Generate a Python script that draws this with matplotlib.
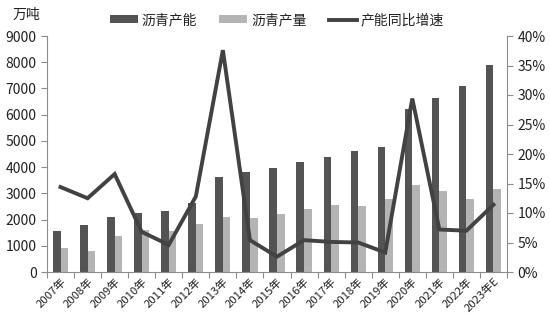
import matplotlib
matplotlib.use("Agg")
import matplotlib.pyplot as plt
import numpy as np
from matplotlib.ticker import FuncFormatter, FixedLocator

plt.rcParams['font.family'] = ['Noto Sans CJK SC', 'DejaVu Sans']

years = ["2007年", "2008年", "2009年", "2010年", "2011年", "2012年", "2013年", "2014年",
         "2015年", "2016年", "2017年", "2018年", "2019年", "2020年", "2021年", "2022年", "2023年E"]
capacity = [1580, 1800, 2090, 2240, 2330, 2645, 3630, 3820, 3970, 4190, 4400, 4630,
            4760, 6210, 6630, 7110, 7910]
production = [905, 815, 1360, 1600, 1565, 1830, 2090, 2050, 2215, 2395, 2555, 2505,
              2775, 3320, 3090, 2775, 3170]
growth = [14.4, 12.5, 16.6, 6.8, 4.6, 12.8, 37.6, 5.4, 2.6, 5.4, 5.1, 5.0, 3.3, 29.4,
          7.2, 7.0, 11.4]

dark = '#545454'
light = '#b4b4b4'
linec = '#424242'
axc = '#8c8c8c'
txtc = '#222222'

fig = plt.figure(figsize=(5.5, 3.16), dpi=100)
ax = fig.add_axes([47/550, 1-272/316, (507-47)/550, (272-36)/316])
ax2 = ax.twinx()

x = np.arange(len(years))
w = 0.28
ax.bar(x - w/2, capacity, w, color=dark, label='沥青产能', zorder=2)
ax.bar(x + w/2, production, w, color=light, label='沥青产量', zorder=2)
ax2.plot(x, growth, color=linec, lw=2.8, label='产能同比增速', solid_joinstyle='miter')

ax.set_xlim(-0.5, len(years) - 0.5)
ax.set_ylim(0, 9000)
ax.set_yticks(np.arange(0, 9001, 1000))
ax2.set_ylim(0, 40)
ax2.set_yticks(np.arange(0, 41, 5))
ax2.yaxis.set_major_formatter(FuncFormatter(lambda v, p: f"{int(v)}%"))

ax.xaxis.set_major_locator(FixedLocator(np.arange(-0.5, len(years), 1.0)))
ax.xaxis.set_major_formatter(FuncFormatter(lambda v, p: ""))
ax.xaxis.set_minor_locator(FixedLocator(x))
ax.set_xticklabels(years, minor=True, rotation=45, ha='right', rotation_mode='anchor',
                   fontsize=8.2, color=txtc)
ax.tick_params(axis='x', which='minor', length=0, pad=3)
ax.tick_params(axis='x', which='major', length=4, color=axc, direction='out')
ax.tick_params(axis='y', length=4, color=axc, labelsize=10)
for lab in ax.get_yticklabels():
    lab.set_color(txtc)
ax2.tick_params(axis='y', length=4, color=axc, labelsize=10)
for lab in ax2.get_yticklabels():
    lab.set_color(txtc)

for a in (ax, ax2):
    a.spines['top'].set_visible(False)
    for s in ('left', 'right', 'bottom'):
        a.spines[s].set_color(axc)
ax.spines['right'].set_visible(False)
ax2.spines['left'].set_visible(False)
ax2.spines['bottom'].set_visible(False)

fig.text(26/550, 1-15/316, '万吨', fontsize=10, color=txtc, ha='center', va='center')

h1, l1 = ax.get_legend_handles_labels()
h2, l2 = ax2.get_legend_handles_labels()
fig.legend(h1 + h2, l1 + l2, loc='center', bbox_to_anchor=(277/550, 1-20/316), ncol=3,
           frameon=False, fontsize=10, handlelength=2.0, handleheight=0.5,
           columnspacing=1.6, handletextpad=0.3, labelcolor=txtc)

fig.savefig('out.png', dpi=100)
